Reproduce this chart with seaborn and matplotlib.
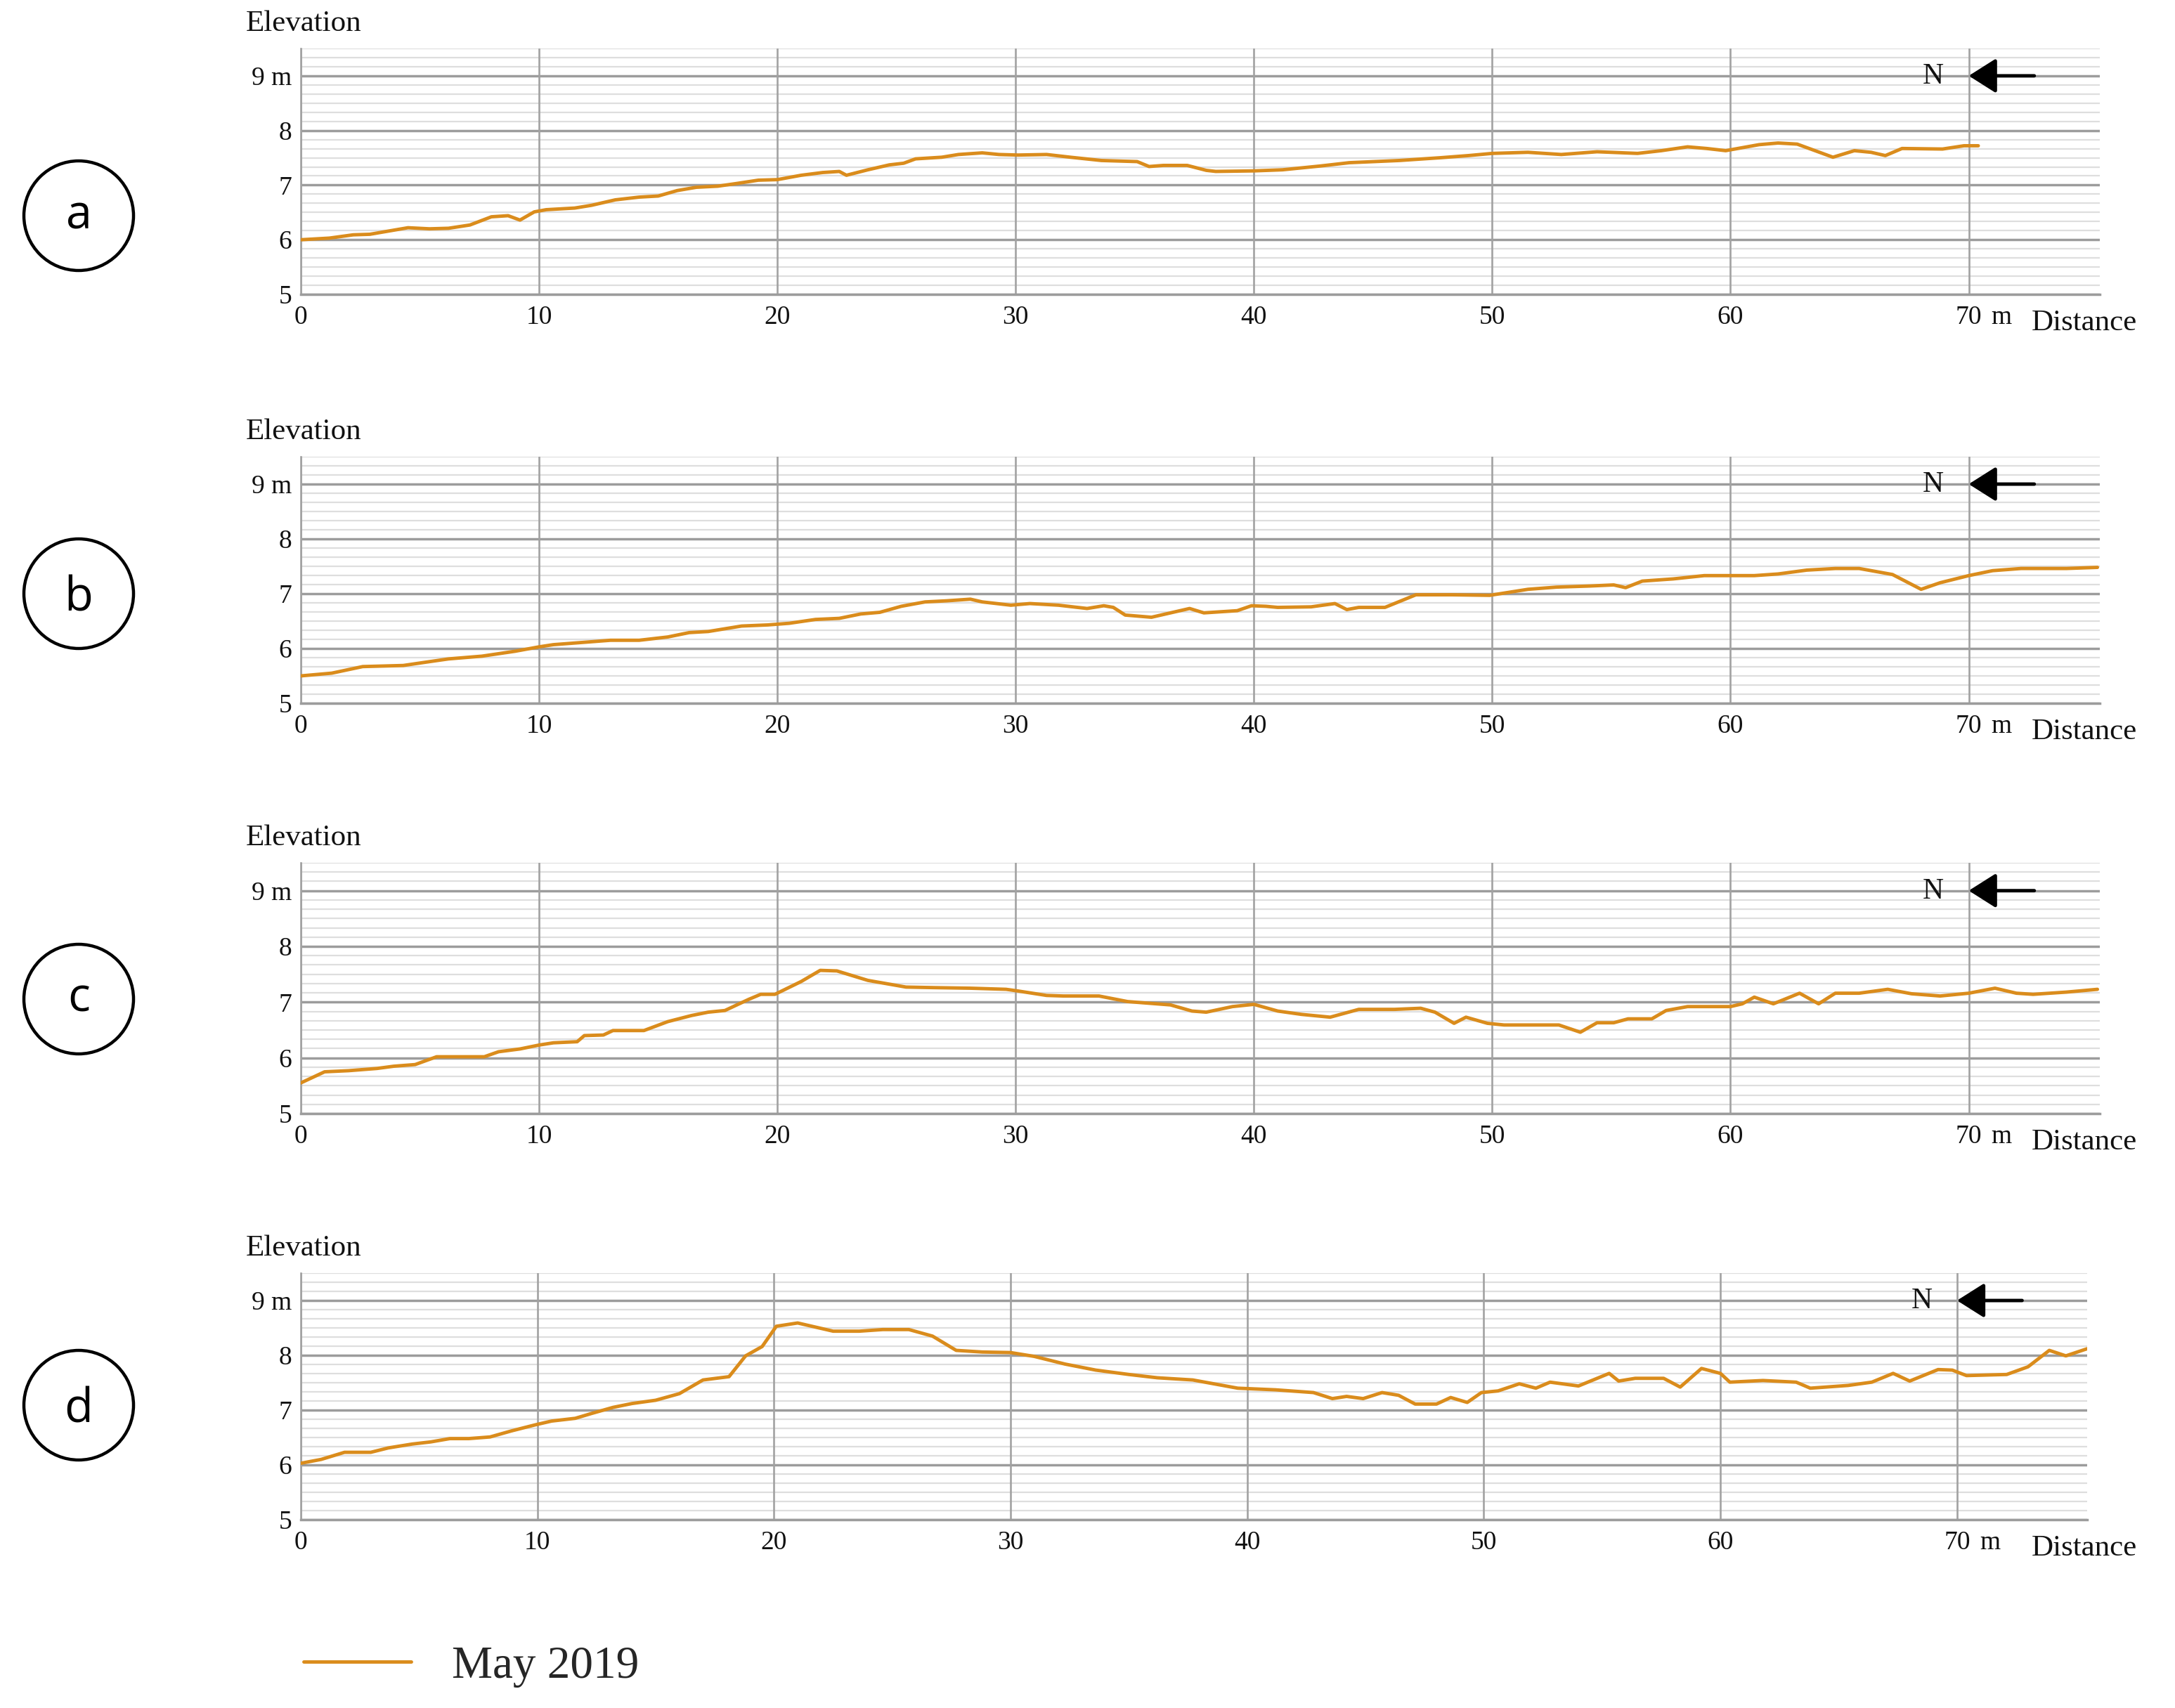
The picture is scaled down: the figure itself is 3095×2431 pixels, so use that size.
import matplotlib
matplotlib.use("Agg")
import matplotlib.pyplot as plt
import seaborn as sns
import pandas as pd
from matplotlib.ticker import MultipleLocator
from matplotlib.patches import Ellipse

# ---------------- data (distance in m, elevation in m) ----------------
dist_a = [0, 1.2, 2.2, 2.9, 4.5, 5.4, 6.2, 7.1, 8.0, 8.7, 9.2, 9.8, 10.3, 11.5, 12.2, 13.2, 14.2,
          15.0, 15.8, 16.6, 17.5, 18.3, 19.2, 20.0, 21.0, 21.9, 22.6, 22.9, 23.8, 24.7, 25.3, 25.8,
          26.9, 27.6, 28.6, 29.3, 30.1, 31.3, 32.3, 33.6, 35.1, 35.6, 36.2, 37.2, 38.0, 38.4, 40.0,
          41.2, 42.8, 44.0, 46.1, 47.8, 49.0, 50.0, 51.5, 52.9, 54.4, 56.1, 57.1, 58.2, 59.0, 59.8,
          61.2, 62.0, 62.8, 64.3, 65.2, 65.9, 66.5, 67.2, 68.9, 69.8, 70.4]
elev_a = [6.00, 6.03, 6.09, 6.10, 6.22, 6.20, 6.21, 6.27, 6.42, 6.44, 6.36, 6.51, 6.55, 6.58, 6.63,
          6.73, 6.78, 6.80, 6.90, 6.96, 6.98, 7.03, 7.09, 7.10, 7.18, 7.23, 7.25, 7.18, 7.28, 7.37,
          7.40, 7.48, 7.51, 7.56, 7.59, 7.56, 7.55, 7.56, 7.51, 7.45, 7.43, 7.34, 7.36, 7.36, 7.27,
          7.25, 7.26, 7.28, 7.35, 7.41, 7.45, 7.50, 7.54, 7.58, 7.60, 7.56, 7.61, 7.58, 7.63, 7.70,
          7.67, 7.63, 7.74, 7.77, 7.75, 7.51, 7.63, 7.60, 7.54, 7.67, 7.66, 7.72, 7.72]

dist_b = [0, 1.3, 2.6, 4.3, 5.4, 6.2, 7.6, 9.0, 10.0, 10.6, 11.5, 13.0, 14.2, 15.4, 16.3, 17.1,
          18.5, 19.6, 20.5, 21.6, 22.6, 23.5, 24.3, 25.2, 26.2, 27.1, 28.1, 28.6, 29.8, 30.6, 31.8,
          33.0, 33.7, 34.1, 34.6, 35.7, 37.3, 37.9, 39.3, 39.9, 40.5, 41.0, 42.4, 43.4, 43.9, 44.4,
          45.5, 46.8, 48.3, 49.9, 51.5, 52.7, 54.1, 55.1, 55.6, 56.3, 57.6, 58.9, 61.0, 62.0, 63.2,
          64.4, 65.4, 66.8, 68.0, 68.8, 70.0, 71.0, 72.2, 74.1, 75.4]
elev_b = [5.50, 5.55, 5.67, 5.69, 5.76, 5.81, 5.86, 5.95, 6.03, 6.07, 6.10, 6.15, 6.15, 6.21, 6.29,
          6.31, 6.41, 6.43, 6.46, 6.53, 6.55, 6.63, 6.66, 6.77, 6.85, 6.87, 6.90, 6.85, 6.79, 6.82,
          6.79, 6.73, 6.78, 6.75, 6.61, 6.57, 6.73, 6.65, 6.69, 6.78, 6.77, 6.75, 6.76, 6.82, 6.71,
          6.75, 6.75, 6.98, 6.98, 6.97, 7.08, 7.12, 7.14, 7.16, 7.11, 7.23, 7.27, 7.33, 7.33, 7.36,
          7.43, 7.46, 7.46, 7.35, 7.08, 7.20, 7.33, 7.42, 7.46, 7.46, 7.48]

dist_c = [0, 1.0, 2.0, 3.2, 3.9, 4.8, 5.7, 7.7, 8.3, 9.2, 10.0, 10.6, 11.6, 11.9, 12.7, 13.1, 14.4,
          15.4, 16.4, 17.1, 17.8, 18.8, 19.3, 19.9, 21.0, 21.8, 22.5, 23.8, 25.4, 26.6, 28.1, 29.6,
          30.1, 31.3, 32.0, 33.5, 34.7, 36.5, 37.4, 38.0, 39.1, 40.0, 41.0, 42.0, 43.2, 44.4, 45.9,
          47.0, 47.6, 48.4, 48.9, 49.8, 50.5, 52.8, 53.7, 54.4, 55.1, 55.7, 56.7, 57.3, 58.2, 60.0,
          60.5, 61.0, 61.8, 62.9, 63.7, 64.4, 65.4, 66.6, 67.6, 68.8, 70.0, 71.1, 72.0, 72.7, 74.1,
          75.4]
elev_c = [5.55, 5.75, 5.77, 5.81, 5.85, 5.88, 6.02, 6.02, 6.11, 6.16, 6.23, 6.27, 6.29, 6.40, 6.41,
          6.49, 6.49, 6.65, 6.76, 6.82, 6.85, 7.05, 7.14, 7.14, 7.37, 7.57, 7.56, 7.39, 7.27, 7.26,
          7.25, 7.23, 7.20, 7.12, 7.11, 7.11, 7.01, 6.95, 6.84, 6.82, 6.92, 6.96, 6.84, 6.78, 6.73,
          6.87, 6.87, 6.89, 6.82, 6.62, 6.73, 6.62, 6.59, 6.59, 6.46, 6.63, 6.63, 6.70, 6.70, 6.85,
          6.92, 6.92, 6.97, 7.09, 6.97, 7.16, 6.97, 7.16, 7.16, 7.23, 7.15, 7.11, 7.16, 7.25, 7.16,
          7.14, 7.18, 7.23]

dist_d = [0, 0.86, 1.85, 2.96, 3.7, 4.7, 5.5, 6.3, 7.1, 8.0, 8.9, 9.9, 10.6, 11.6, 12.3, 13.2,
          14.0, 15.0, 16.0, 17.0, 18.1, 18.8, 19.5, 20.1, 21.0, 21.7, 22.5, 23.6, 24.6, 25.7, 26.7,
          27.7, 28.8, 30.0, 31.0, 32.3, 33.6, 35.0, 36.2, 37.7, 39.6, 41.2, 42.8, 43.6, 44.2, 44.9,
          45.7, 46.4, 47.1, 48.0, 48.6, 49.3, 49.9, 50.6, 51.5, 52.2, 52.8, 54.0, 55.3, 55.7, 56.4,
          57.6, 58.3, 59.2, 60.0, 60.4, 61.8, 63.2, 63.8, 65.4, 66.4, 67.3, 68.0, 69.2, 69.8, 70.4,
          72.1, 73.0, 73.9, 74.6, 75.5]
elev_d = [6.03, 6.10, 6.23, 6.23, 6.31, 6.38, 6.42, 6.48, 6.48, 6.51, 6.62, 6.73, 6.80, 6.85, 6.94,
          7.05, 7.12, 7.18, 7.30, 7.55, 7.61, 7.99, 8.16, 8.53, 8.59, 8.52, 8.44, 8.44, 8.47, 8.47,
          8.35, 8.09, 8.06, 8.05, 7.98, 7.84, 7.73, 7.65, 7.59, 7.55, 7.40, 7.37, 7.32, 7.21, 7.25,
          7.21, 7.32, 7.27, 7.11, 7.11, 7.23, 7.14, 7.32, 7.35, 7.48, 7.40, 7.51, 7.44, 7.67, 7.53,
          7.58, 7.58, 7.42, 7.76, 7.67, 7.51, 7.54, 7.51, 7.40, 7.45, 7.51, 7.67, 7.53, 7.74, 7.73,
          7.63, 7.65, 7.79, 8.09, 7.99, 8.12]

panel_letters = ["a", "b", "c", "d"]
x_ticks = [0, 10, 20, 30, 40, 50, 60, 70]
x_tick_labels = ["0", "10", "20", "30", "40", "50", "60", "70"]
y_ticks = [5, 6, 7, 8, 9]
y_tick_labels = ["5", "6", "7", "8", "9 m"]
series_label = "May 2019"

# ---------------- style ----------------
LINE_COLOR = "#DA8C1C"
MAJOR_COL = "#9c9c9c"
MINOR_COL = "#dedede"
VERT_COL = "#a2a2a2"
TXT = "#111111"

sns.set_theme(style="white")
plt.rcParams["font.family"] = ["Liberation Serif", "DejaVu Serif"]

W, H = 3095, 2431
fig = plt.figure(figsize=(W / 100, H / 100), dpi=100)

rects = [
    [428 / W, 1 - 419 / H, 2560 / W, 350 / H],
    [428 / W, 1 - 1001 / H, 2560 / W, 351 / H],
    [428 / W, 1 - 1585 / H, 2560 / W, 357 / H],
    [428 / W, 1 - 2163 / H, 2542 / W, 351 / H],
]
circle_y = [1 - 307 / H, 1 - 845 / H, 1 - 1422 / H, 1 - 2000 / H]
letter_lift = {"a": 0.27, "b": 0.37, "c": 0.27, "d": 0.37}

data_sets = [(dist_a, elev_a), (dist_b, elev_b), (dist_c, elev_c), (dist_d, elev_d)]

line_handle = None
for i, (xs, ys) in enumerate(data_sets):
    ax = fig.add_axes(rects[i])
    df = pd.DataFrame({"Distance": xs, "Elevation": ys})
    sns.lineplot(data=df, x="Distance", y="Elevation", ax=ax, color=LINE_COLOR,
                 linewidth=3.5, estimator=None, sort=False, label=series_label, legend=False)
    if line_handle is None:
        line_handle = ax.get_lines()[0]
    ax.set_xlim(0, 75.5)
    ax.set_ylim(5, 9.5)
    ax.set_xticks(x_ticks)
    ax.set_xticklabels(x_tick_labels)
    ax.set_yticks(y_ticks)
    ax.set_yticklabels(y_tick_labels)
    ax.yaxis.set_minor_locator(MultipleLocator(1 / 6))
    ax.set_axisbelow(True)
    # vertical grid above the horizontal grid
    ax.yaxis.set_zorder(0.4)
    ax.xaxis.set_zorder(0.6)
    ax.grid(which="minor", axis="y", color=MINOR_COL, linewidth=1.6)
    ax.grid(which="major", axis="y", color=MAJOR_COL, linewidth=2.5)
    ax.grid(which="major", axis="x", color=VERT_COL, linewidth=1.9)
    ax.tick_params(which="both", length=0, labelsize=27, colors=TXT)
    ax.tick_params(axis="x", pad=11)
    ax.tick_params(axis="y", pad=9)
    ax.set_xlabel("")
    ax.set_ylabel("")
    for s in ["top", "right"]:
        ax.spines[s].set_visible(False)
    ax.spines["left"].set_color(VERT_COL)
    ax.spines["left"].set_linewidth(1.9)
    ax.spines["left"].set_zorder(0.6)
    ax.spines["bottom"].set_color(MAJOR_COL)
    ax.spines["bottom"].set_linewidth(2.5)

    # "m" after the 70 tick label
    ax.annotate("m", xy=(70.95, 0), xycoords=("data", "axes fraction"), xytext=(0, -30.5),
                textcoords="offset points", ha="left", va="baseline", fontsize=27,
                color=TXT, annotation_clip=False)
    # "Distance" axis title
    ax.annotate("Distance", xy=(2891 / W, 0), xycoords=("figure fraction", "axes fraction"),
                xytext=(0, -36.5), textcoords="offset points", ha="left", va="baseline",
                fontsize=31, color=TXT, annotation_clip=False)
    # "Elevation" axis title
    top = rects[i][1] + rects[i][3]
    fig.text(350 / W, top + 35 / H, "Elevation", ha="left", va="center", fontsize=31, color=TXT)

    # North arrow
    ax.text(68.5, 8.86, "N", ha="center", va="baseline", fontsize=30, color=TXT)
    ax.annotate("", xy=(70, 9), xytext=(72.75, 9),
                arrowprops=dict(arrowstyle="-|>,head_length=0.6,head_width=0.38",
                                mutation_scale=40, lw=3.5, color="black",
                                shrinkA=0, shrinkB=0))

    # panel circle and letter
    cx, cy = 112 / W, circle_y[i]
    fig.add_artist(Ellipse((cx, cy), width=156 / W, height=156 / H,
                           transform=fig.transFigure, fill=False, lw=3.2, ec="black"))
    fs = 48
    em = fs * 100 / 72 / H
    fig.text(cx, cy - letter_lift[panel_letters[i]] * em, panel_letters[i], ha="center",
             va="baseline", fontsize=fs, family=["Open Sans", "DejaVu Sans"], color="black")

fig.legend(handles=[line_handle], labels=[series_label], loc="center left",
           bbox_to_anchor=(432 / W, 1 - 2372 / H), frameon=False, fontsize=47,
           handlelength=2.34, handletextpad=0.9, borderpad=0, borderaxespad=0)

fig.savefig("out.png", dpi=100, facecolor="white")
